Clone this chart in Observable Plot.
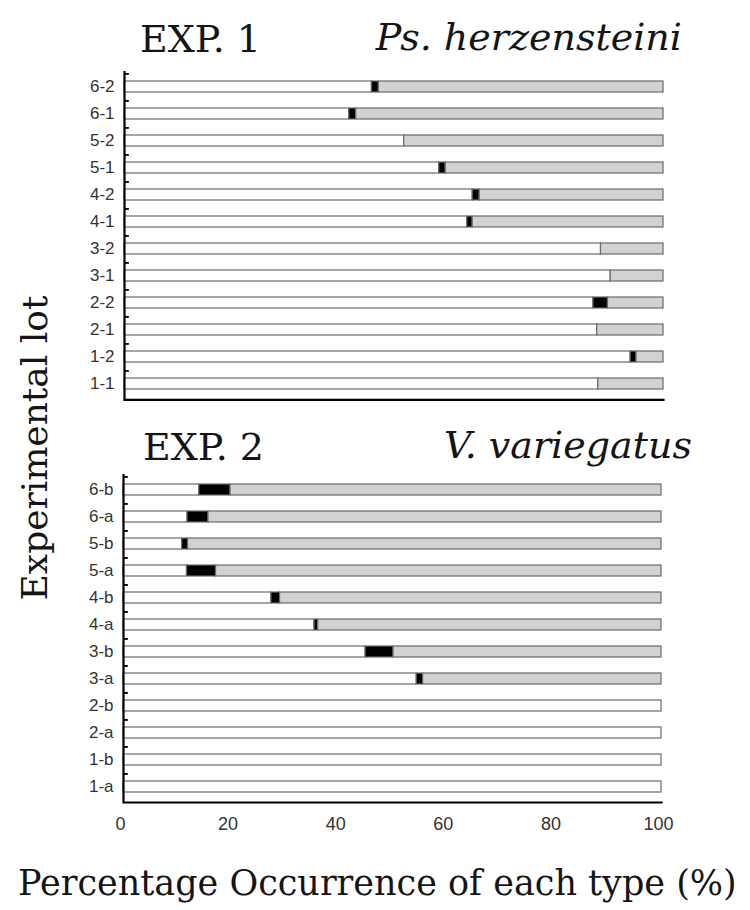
<!DOCTYPE html>
<html><head><meta charset="utf-8">
<script src="https://cdn.jsdelivr.net/npm/d3@7"></script>
<script src="https://cdn.jsdelivr.net/npm/@observablehq/plot@0.6"></script>
<style>
body{margin:0;background:#fff;}
#root{position:relative;width:750px;height:910px;overflow:hidden;background:#fff;}
.t{position:absolute;font-family:"DejaVu Serif",serif;color:#151515;white-space:nowrap;line-height:1;}
.panel{position:absolute;left:0;}
svg.panel g[aria-label="y-axis tick label"], svg.panel g[aria-label="y-axis tick label"] text{font-size:17px !important;font-family:"Liberation Sans",Arial,sans-serif;}
svg.panel g[aria-label="x-axis tick label"], svg.panel g[aria-label="x-axis tick label"] text{font-size:18px !important;font-family:"Liberation Sans",Arial,sans-serif;}
</style></head><body><div id="root"></div>
<script>
// ---- data ----
const lots1  = ["6-2","6-1","5-2","5-1","4-2","4-1","3-2","3-1","2-2","2-1","1-2","1-1"];
const white1 = [45.9, 41.7, 51.9, 58.4, 64.6, 63.6, 88.4, 90.2, 87.0, 87.7, 93.9, 87.9];
const black1 = [ 1.3,  1.3,  0.0,  1.2,  1.3,  1.0,  0.0,  0.0,  2.7,  0.0,  1.1,  0.0];
const gray1  = [52.8, 57.0, 48.1, 40.4, 34.1, 35.4, 11.6,  9.8, 10.3, 12.3,  5.0, 12.1];

const lots2  = ["6-b","6-a","5-b","5-a","4-b","4-a","3-b","3-a","2-b","2-a","1-b","1-a"];
const white2 = [14.1, 11.9, 10.9, 11.8, 27.5, 35.5, 45.0, 54.5, 100, 100, 100, 100];
const black2 = [ 5.8,  3.9,  1.1,  5.4,  1.6,  0.7,  5.2,  1.2,   0,   0,   0,   0];
const gray2  = [80.1, 84.2, 88.0, 82.8, 70.9, 63.8, 49.8, 44.3,   0,   0,   0,   0];

const types = ["type A","type B","type C"];
const typeColors = ["#ffffff","#000000","#d2d2d2"];
const xTicks = [0, 20, 40, 60, 80, 100];

const title1 = "EXP. 1", species1 = "Ps. herzensteini";
const title2 = "EXP. 2", species2 = "V. variegatus";
const yTitle = "Experimental lot";
const xTitle = "Percentage Occurrence of each type (%)";

// ---- helpers ----
function rows(lots, white, black, gray) {
  const out = [];
  lots.forEach((lot, i) => {
    [white[i], black[i], gray[i]].forEach((v, j) => { if (v > 0) out.push({lot, type: types[j], v}); });
  });
  return out;
}

function panel(lots, data, o) {
  const band = (o.height - o.marginTop - o.marginBottom) / lots.length;
  return Plot.plot({
    width: 750, height: o.height,
    marginLeft: o.marginLeft, marginRight: o.marginRight,
    marginTop: o.marginTop, marginBottom: o.marginBottom,
    x: {domain: [0, 100], axis: null, label: null},
    y: {domain: lots, padding: 0, axis: null, label: null},
    color: {type: "ordinal", domain: types, range: typeColors},
    style: {background: "transparent", fontFamily: "'Liberation Sans',Arial,sans-serif", fontSize: "17px", overflow: "visible"},
    marks: [
      Plot.barX(data, Plot.stackX({x: "v", y: "lot", fill: "type", stroke: "#6a6a6a", strokeWidth: 1.2, insetTop: 8, insetBottom: 8})),
      Plot.barX(lots, {x1: 0, x2: 0.9, y: d => d, fill: "#000", insetBottom: band - 2.2}),
      Plot.ruleX(xTicks.filter(t => t > 0), {y: () => lots[lots.length - 1], insetTop: band - 8, stroke: "#000", strokeWidth: 2}),
      Plot.ruleX([0], {stroke: "#000", strokeWidth: 2.2}),
      Plot.frame({anchor: "bottom", stroke: "#000", strokeWidth: 2.2}),
      Plot.axisY({tickSize: 0, tickPadding: 10, fontSize: 17, label: null, fill: "#333"}),
      o.labels ? Plot.axisX({ticks: xTicks, tickSize: 0, tickPadding: 15, fontSize: 18, label: null, fill: "#333", dx: -3}) : null
    ]
  });
}

const root = document.getElementById("root");
function place(el, top) { el.classList.add("panel"); el.style.top = top + "px"; root.appendChild(el); }

place(panel(lots1, rows(lots1, white1, black1, gray1),
  {height: 410, marginTop: 71, marginBottom: 10.6, marginLeft: 124, marginRight: 87, labels: false}), 0);
place(panel(lots2, rows(lots2, white2, black2, gray2),
  {height: 442, marginTop: 64, marginBottom: 50, marginLeft: 123, marginRight: 89, labels: true}), 410);

function text(str, css) {
  const d = document.createElement("div");
  d.className = "t"; d.textContent = str;
  Object.assign(d.style, css);
  root.appendChild(d);
  return d;
}
text(title1, {left: "140px", top: "20px", fontSize: "38px"});
text(species1, {right: "68px", top: "18px", fontSize: "38px", fontStyle: "italic"});
text(title2, {left: "143px", top: "428px", fontSize: "38px"});
text(species2, {right: "58px", top: "426px", fontSize: "38px", fontStyle: "italic"});
text(yTitle, {left: (35 - 200) + "px", top: (448 - 18) + "px", width: "400px", height: "36px", fontSize: "36px", textAlign: "center", transform: "rotate(-90deg)"});
text(xTitle, {left: "18px", top: "866px", fontSize: "35px"});
</script></body></html>
